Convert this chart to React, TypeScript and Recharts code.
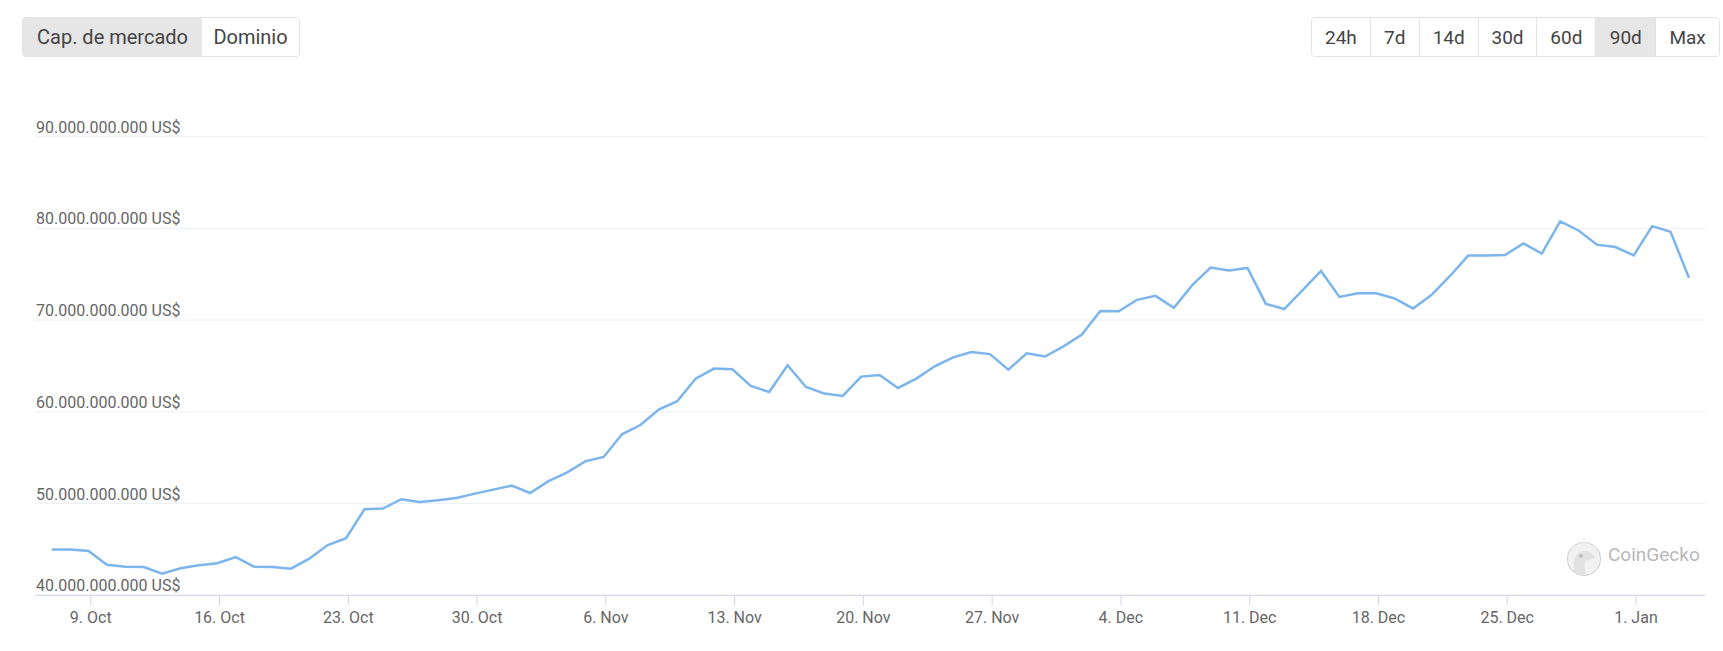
import React from 'react';
import { LineChart, Line, XAxis, YAxis, CartesianGrid } from 'recharts';

// Market cap in billions of US$, one point per day
const marketCapB = [
  45.0, 45.0, 44.82, 43.33, 43.12, 43.08, 42.36, 42.94, 43.27, 43.49,
  44.17, 43.12, 43.08, 42.9, 43.99, 45.47, 46.23, 49.38, 49.46, 50.47,
  50.17, 50.36, 50.61, 51.08, 51.52, 51.95, 51.15, 52.45, 53.37, 54.6,
  55.08, 57.55, 58.56, 60.25, 61.16, 63.62, 64.71, 64.63, 62.82, 62.17,
  65.07, 62.71, 61.99, 61.73, 63.84, 64.01, 62.6, 63.62, 64.96, 65.93,
  66.51, 66.29, 64.6, 66.37, 66.03, 67.13, 68.43, 71.0, 70.95, 72.21,
  72.64, 71.34, 73.8, 75.72, 75.4, 75.68, 71.77, 71.2, 73.26, 75.36,
  72.53, 72.93, 72.93, 72.36, 71.27, 72.72, 74.78, 77.03, 77.03, 77.09,
  78.36, 77.24, 80.75, 79.77, 78.22, 77.96, 77.06, 80.24, 79.63, 74.6,
];

const DAY = 24 * 3600 * 1000;
const START = Date.UTC(2023, 9, 6, 21, 7);

const tickDates = [
  '2023-10-09', '2023-10-16', '2023-10-23', '2023-10-30', '2023-11-06',
  '2023-11-13', '2023-11-20', '2023-11-27', '2023-12-04', '2023-12-11',
  '2023-12-18', '2023-12-25', '2024-01-01',
];
const monthNames = ['Jan', 'Feb', 'Mar', 'Apr', 'May', 'Jun', 'Jul', 'Aug', 'Sep', 'Oct', 'Nov', 'Dec'];

const yTicks = [40, 50, 60, 70, 80, 90];

const metricButtons = ['Cap. de mercado', 'Dominio'];
const rangeButtons = ['24h', '7d', '14d', '30d', '60d', '90d', 'Max'];
const rangeWidths = [58, 49, 59, 59, 59, 60, 64];

const data = marketCapB.map((v, i) => ({ t: START + i * DAY, v }));
const xTicks = tickDates.map((s) => Date.parse(s + 'T00:00:00Z'));

const formatUsd = (b: number) => {
  const s = String(Math.round(b * 1e9)).replace(/\B(?=(\d{3})+(?!\d))/g, '.');
  return `${s} US$`;
};

const formatDate = (t: number) => {
  const d = new Date(t);
  return `${d.getUTCDate()}. ${monthNames[d.getUTCMonth()]}`;
};

const renderYTick = (props: any) => {
  const { y, payload } = props;
  return (
    <text key={payload.value} x={36} y={y - 4} textAnchor="start" fill="#666666" fontSize={16} fontFamily="Roboto">
      {formatUsd(payload.value)}
    </text>
  );
};

const btnBase: React.CSSProperties = {
  boxSizing: 'border-box',
  height: '100%',
  display: 'flex',
  alignItems: 'center',
  justifyContent: 'center',
  color: '#444',
};

const App = () => {
  return (
    <div style={{ position: 'absolute', left: 0, top: 0, width: 1723, height: 651, background: '#fff', fontFamily: 'Roboto' }}>
      <div
        style={{
          position: 'absolute', left: 22, top: 17, width: 278, height: 40, boxSizing: 'border-box',
          border: '1px solid #e3e3e3', borderRadius: 4, display: 'flex', overflow: 'hidden', fontSize: 20,
        }}
      >
        {metricButtons.map((b, i) => (
          <div
            key={b}
            style={{
              ...btnBase,
              width: i === 0 ? 179 : 97,
              background: i === 0 ? '#e6e6e6' : '#fff',
            }}
          >
            {b}
          </div>
        ))}
      </div>

      <div
        style={{
          position: 'absolute', left: 1311, top: 17, width: 409, height: 40, boxSizing: 'border-box',
          border: '1px solid #e3e3e3', borderRadius: 4, display: 'flex', overflow: 'hidden', fontSize: 19,
        }}
      >
        {rangeButtons.map((b, i) => (
          <div
            key={b}
            style={{
              ...btnBase,
              width: rangeWidths[i],
              borderLeft: i === 0 ? 'none' : '1px solid #e3e3e3',
              background: b === '90d' ? '#e6e6e6' : '#fff',
            }}
          >
            {b}
          </div>
        ))}
      </div>

      <div style={{ position: 'absolute', left: 0, top: 0 }}>
        <LineChart
          width={1723}
          height={651}
          data={data}
          margin={{ top: 136.6, right: 17.5, bottom: 15.7, left: 34.2 }}
        >
          <CartesianGrid vertical={false} stroke="#edf0f4" />
          <XAxis
            dataKey="t"
            type="number"
            scale="time"
            domain={[START - 0.9 * DAY, START + 89.9 * DAY]}
            ticks={xTicks}
            tickFormatter={formatDate}
            height={40}
            axisLine={{ stroke: '#ccd6eb' }}
            tickLine={{ stroke: '#ccd6eb' }}
            tickSize={10}
            tickMargin={6}
            tick={{ fill: '#666666', fontSize: 16, fontFamily: 'Roboto' }}
            allowDataOverflow
          />
          <YAxis
            domain={[40, 90]}
            ticks={yTicks}
            width={1}
            axisLine={false}
            tickLine={false}
            interval={0}
            tick={renderYTick}
          />
          <Line
            type="linear"
            dataKey="v"
            stroke="#7cb5ec"
            strokeWidth={2.5}
            dot={false}
            activeDot={false}
            isAnimationActive={false}
          />
        </LineChart>
      </div>

      <div style={{ position: 'absolute', left: 1566, top: 541, display: 'flex', alignItems: 'center' }}>
        <svg width={36} height={36} viewBox="0 0 36 36">
          <circle cx={18} cy={18} r={16.5} fill="#f2f2f2" stroke="#d6d6d6" strokeWidth={1.2} />
          <path d="M8 30 C7 20 9 11 17 10 C24 9 28 14 29 17 C26 19 21 18 19 20 C18 24 19 28 20 33 C15 34 11 33 8 30 Z" fill="#e2e2e2" />
          <circle cx={15} cy={15} r={2} fill="#bdbdbd" />
        </svg>
        <span style={{ marginLeft: 6, marginTop: -10, fontSize: 19, color: '#b8b8b8' }}>CoinGecko</span>
      </div>
    </div>
  );
};

export default App;
